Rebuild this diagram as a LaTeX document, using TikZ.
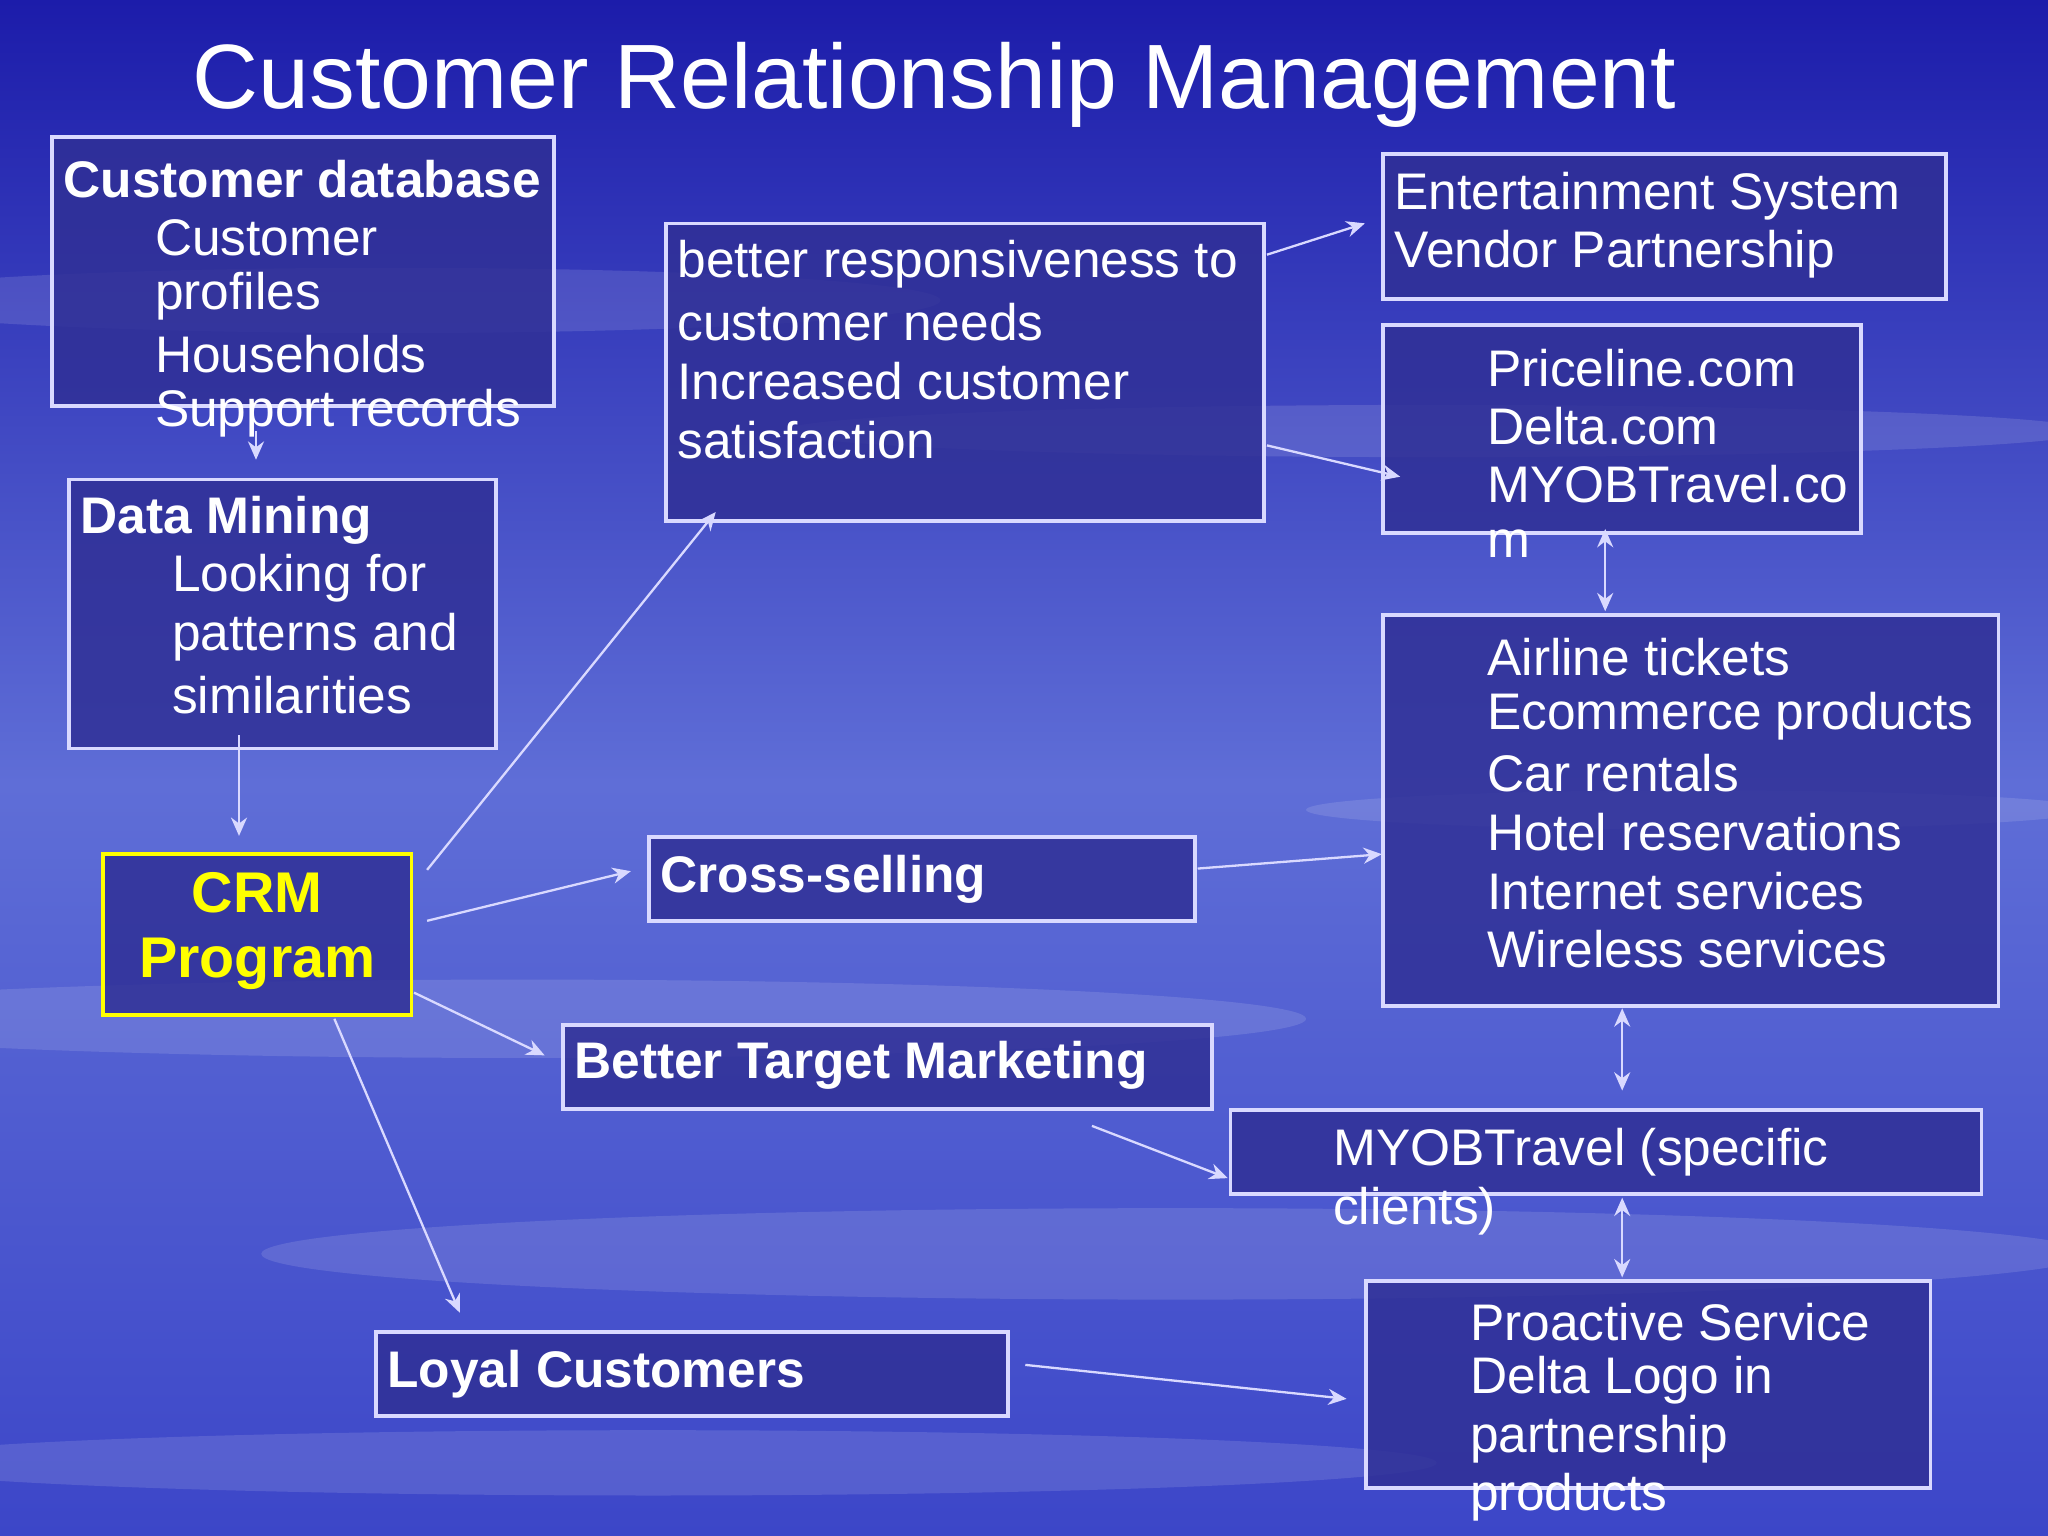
\documentclass[tikz,border=0pt]{standalone}
\usepackage{fontspec}
\setmainfont{Liberation Sans}
\usetikzlibrary{arrows.meta}
\definecolor{bgtop}{RGB}{28,28,170}
\definecolor{bgmid}{RGB}{95,110,215}
\definecolor{bgbot}{RGB}{60,70,200}
\definecolor{boxfill}{RGB}{48,48,150}
\definecolor{crmyellow}{RGB}{255,255,0}
\tikzset{
  box/.style={draw=white!85!blue, line width=0.8pt, fill=boxfill, fill opacity=0.85, draw opacity=1},
  txt/.style={anchor=west, text=white, inner sep=0pt, font=\fontsize{11.2}{12.8}\selectfont},
  btxt/.style={txt, font=\fontsize{11.2}{12.8}\selectfont\bfseries},
  conn/.style={draw=white!85!blue, line width=0.5pt, -{Stealth[length=4pt,width=3.5pt]}},
  bconn/.style={draw=white!85!blue, line width=0.5pt, {Stealth[length=4pt,width=3.5pt]}-{Stealth[length=4pt,width=3.5pt]}},
  cloud/.style={fill=white, opacity=0.12}
}
\begin{document}
\begin{tikzpicture}[x=0.01cm,y=-0.01cm]
\useasboundingbox (0,0) rectangle (1568,1176);
\shade[top color=bgtop, bottom color=bgmid] (0,0) rectangle (1568,600);
\shade[top color=bgmid, bottom color=bgbot] (0,600) rectangle (1568,1176);
% clouds
\fill[cloud] (300,230) ellipse (420 and 25);
\fill[cloud] (1100,330) ellipse (500 and 20);
\fill[cloud] (400,780) ellipse (600 and 30);
\fill[cloud] (900,960) ellipse (700 and 35);
\fill[cloud] (500,1120) ellipse (600 and 25);
\fill[cloud] (1300,620) ellipse (300 and 15);
\node[anchor=west, text=white, inner sep=0pt, font=\fontsize{19.9}{22}\selectfont] (title) at (147,65) {Customer Relationship Management};
% boxes
\path[box] (40,105) rectangle (424,311);
\node[btxt] (db) at (48,137) {Customer database};
\node[txt] (db1) at (118,182) {Customer};
\node[txt] at (118,227) {profiles};
\node[txt] at (118,271) {Households};
\node[txt] at (118,316) {Support records};
\path[box] (53,367) rectangle (380,573);
\node[btxt] (dm) at (61,398) {Data Mining};
\node[txt] at (131,443) {Looking for};
\node[txt] at (131,488) {patterns and};
\node[txt] at (131,532) {similarities};
\path[box, draw=crmyellow] (79,654) rectangle (315,777);
\node[text=crmyellow, inner sep=0pt, align=center, font=\fontsize{12.5}{14.2}\selectfont\bfseries] (crm) at (197,713) {CRM\\Program};
\path[box] (510,171) rectangle (968,399);
\node[txt] at (518,202) {better responsiveness to};
\node[txt] at (518,247) {customer needs};
\node[txt] at (518,292) {Increased customer};
\node[txt] at (518,337) {satisfaction};
\path[box] (497,641) rectangle (915,705);
\node[btxt] at (505,673) {Cross-selling};
\path[box] (431,785) rectangle (928,849);
\node[btxt] at (439,816) {Better Target Marketing};
\path[box] (288,1020) rectangle (772,1084);
\node[btxt] at (296,1052) {Loyal Customers};
\path[box] (1059,118) rectangle (1490,229);
\node[txt] at (1067,150) {Entertainment System};
\node[txt] at (1067,195) {Vendor Partnership};
\path[box] (1059,249) rectangle (1425,408);
\node[txt] at (1138,282) {Priceline.com};
\node[txt] at (1138,326) {Delta.com};
\node[txt] at (1138,371) {MYOBTravel.co};
\node[txt] at (1138,416) {m};
\path[box] (1059,471) rectangle (1530,770);
\node[txt] at (1138,503) {Airline tickets};
\node[txt] at (1138,548) {Ecommerce products};
\node[txt] at (1138,592) {Car rentals};
\node[txt] at (1138,637) {Hotel reservations};
\node[txt] at (1138,682) {Internet services};
\node[txt] at (1138,727) {Wireless services};
\path[box] (942,850) rectangle (1517,914);
\node[txt] at (1020,882) {MYOBTravel (specific};
\node[txt] at (1020,927) {clients)};
\path[box] (1046,981) rectangle (1478,1139);
\node[txt] at (1125,1012) {Proactive Service};
\node[txt] at (1125,1057) {Delta Logo in};
\node[txt] at (1125,1102) {partnership};
\node[txt] at (1125,1146) {products};
% connector endpoints
\coordinate (a1) at (196,330); \coordinate (a2) at (196,352);
\coordinate (b1) at (183,563); \coordinate (b2) at (183,640);
\coordinate (c1) at (327,666); \coordinate (c2) at (548,392);
\coordinate (d1) at (327,705); \coordinate (d2) at (483,667);
\coordinate (e1) at (317,760); \coordinate (e2) at (417,808);
\coordinate (f1) at (256,780); \coordinate (f2) at (352,1005);
\coordinate (g1) at (970,195); \coordinate (g2) at (1045,171);
\coordinate (h1) at (970,341); \coordinate (h2) at (1072,365);
\coordinate (i1) at (1229,405); \coordinate (i2) at (1229,468);
\coordinate (j1) at (917,665); \coordinate (j2) at (1058,654);
\coordinate (k1) at (1242,772); \coordinate (k2) at (1242,835);
\coordinate (l1) at (836,862); \coordinate (l2) at (940,902);
\coordinate (m1) at (1242,917); \coordinate (m2) at (1242,978);
\coordinate (n1) at (785,1045); \coordinate (n2) at (1031,1071);
\draw[conn] (a1) -- (a2);
\draw[conn] (b1) -- (b2);
\draw[conn] (c1) -- (c2);
\draw[conn] (d1) -- (d2);
\draw[conn] (e1) -- (e2);
\draw[conn] (f1) -- (f2);
\draw[conn] (g1) -- (g2);
\draw[conn] (h1) -- (h2);
\draw[bconn] (i1) -- (i2);
\draw[conn] (j1) -- (j2);
\draw[bconn] (k1) -- (k2);
\draw[conn] (l1) -- (l2);
\draw[bconn] (m1) -- (m2);
\draw[conn] (n1) -- (n2);
\end{tikzpicture}
\end{document}
